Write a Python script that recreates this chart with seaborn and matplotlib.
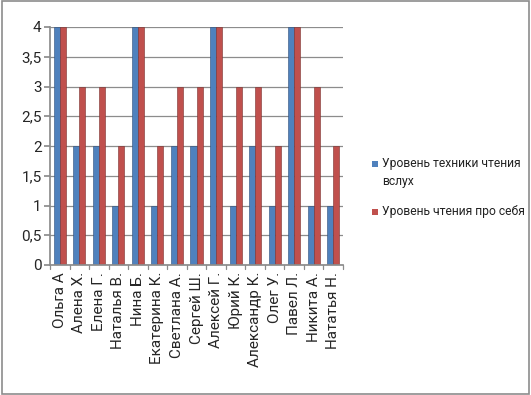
import matplotlib.pyplot as plt
import seaborn as sns
import pandas as pd
from matplotlib.patches import Rectangle

# данные с диаграммы
names = ['Ольга А', 'Алена Х.', 'Елена Г.', 'Наталья В.', 'Нина Б.', 'Екатерина К.',
         'Светлана А.', 'Сергей Ш.', 'Алексей Г.', 'Юрий К.', 'Александр К.', 'Олег У.',
         'Павел Л.', 'Никита А.', 'Нататья Н.']
vslukh = [4, 2, 2, 1, 4, 1, 2, 2, 4, 1, 2, 1, 4, 1, 1]
pro_sebya = [4, 3, 3, 2, 4, 2, 3, 3, 4, 3, 3, 2, 4, 3, 2]
series = ['Уровень техники чтения\nвслух', 'Уровень чтения про себя']
colors = ['#4F81BD', '#C0504D']
y_ticks = [0, 0.5, 1, 1.5, 2, 2.5, 3, 3.5, 4]

df = pd.DataFrame({
    'name': names * 2,
    'value': vslukh + pro_sebya,
    'series': [series[0]] * len(names) + [series[1]] * len(names),
})

sns.set_theme(style='white')
plt.rcParams['font.family'] = ['Roboto', 'DejaVu Sans']

W, H = 531, 395
fig = plt.figure(figsize=(W / 100, H / 100), dpi=100)
ax = fig.add_axes([50 / W, 1 - 265 / H, 293 / W, 238 / H])

sns.barplot(data=df, x='name', y='value', hue='series', palette=colors,
            width=0.62, ax=ax, legend=False, saturation=1, linewidth=0.4)
for i, patch in enumerate(ax.patches):
    patch.set_edgecolor('#2c4d7a' if i < len(names) else '#7a2f2d')

ax.set_xlim(-0.5, len(names) - 0.5)
ax.set_ylim(0, 4)
ax.set_yticks(y_ticks)
ax.set_yticklabels([f'{t:g}'.replace('.', ',') for t in y_ticks], fontsize=11)
ax.set_xticks(range(len(names)))
ax.set_xticklabels(names, rotation=90, fontsize=11)
ax.set_xlabel('')
ax.set_ylabel('')
ax.grid(axis='y', color='#8c8c8c', linewidth=0.9)
ax.set_axisbelow(True)
for s in ['top', 'right']:
    ax.spines[s].set_visible(False)
ax.spines['left'].set_color('#8c8c8c')
ax.spines['bottom'].set_color('#8c8c8c')
ax.tick_params(axis='x', length=0, pad=5)
ax.tick_params(axis='y', length=4, color='#8c8c8c', left=True, pad=2)
# засечки между категориями
for i in range(len(names) + 1):
    ax.plot([i - 0.5, i - 0.5], [0, -0.06], color='#8c8c8c', lw=0.9, clip_on=False)

# легенда вручную, как в Excel: маркер у первой строки
leg_rows = [164, 212]
for label, c, y in zip(series, colors, leg_rows):
    fig.patches.append(Rectangle((372 / W, 1 - (y + 3) / H), 6 / W, 6 / H,
                                 transform=fig.transFigure, facecolor=c, edgecolor='none'))
    fig.text(382 / W, 1 - (y - 7) / H, label, fontsize=8.7, va='top', ha='left',
             linespacing=1.55, color='#222222')

fig.patches.append(Rectangle((0.003, 0.003), 0.994, 0.994, transform=fig.transFigure,
                             fill=False, edgecolor='#8c8c8c', linewidth=1.2))

fig.savefig('out.png', dpi=100)
